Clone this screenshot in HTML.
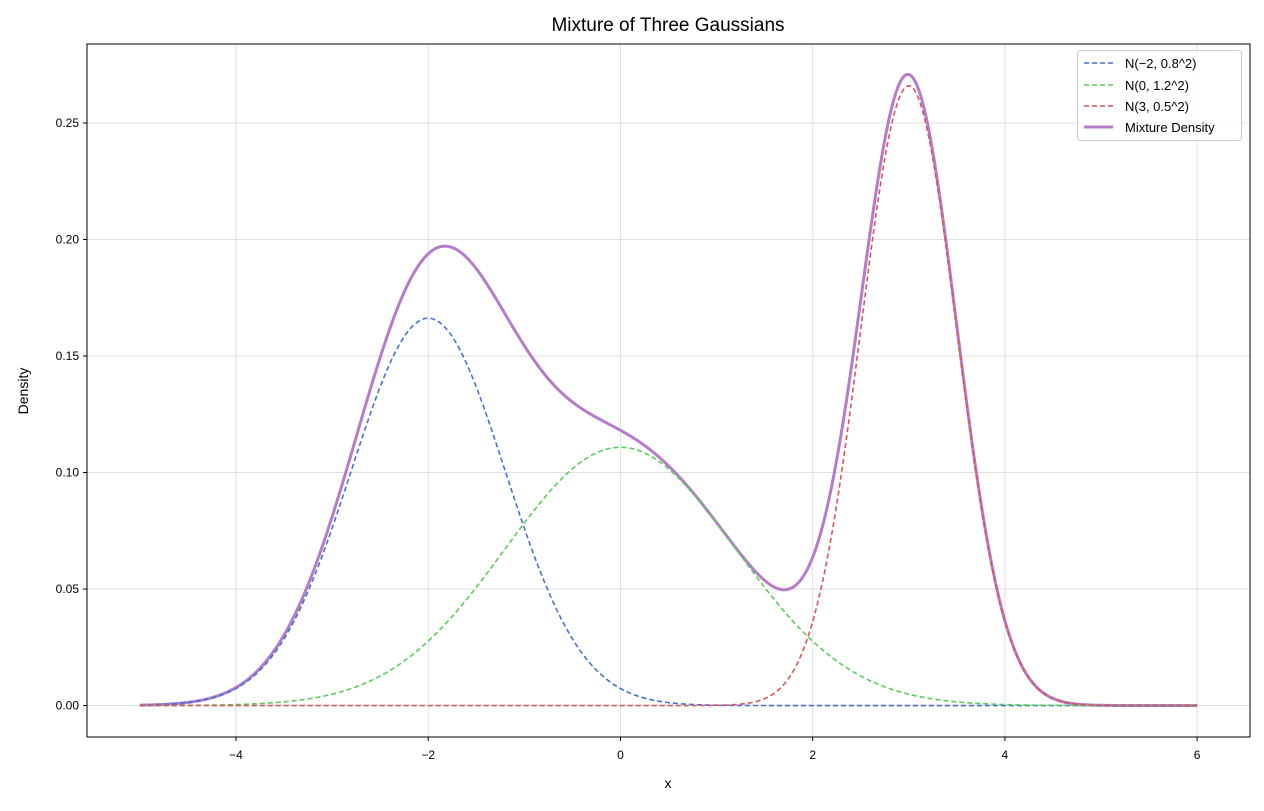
<!DOCTYPE html>
<html><head><meta charset="utf-8"><style>
body{margin:0;background:#fff;}
svg text{font-family:"Liberation Sans","DejaVu Sans",sans-serif;fill:#000;}
</style></head><body>
<svg id="chart" width="1264" height="806" xmlns="http://www.w3.org/2000/svg">
<rect width="1264" height="806" fill="#fff"/>
<g id="grid"></g>
<g id="series"></g>
<rect x="87" y="44" width="1163" height="693" fill="none" stroke="#000" stroke-width="1"/>
<g id="ticks"></g>
<text x="668" y="31" font-size="19" text-anchor="middle">Mixture of Three Gaussians</text>
<text x="668" y="788" font-size="14" text-anchor="middle">x</text>
<text x="28" y="391" font-size="14" text-anchor="middle" transform="rotate(-90 28 391)">Density</text>
<g>
<rect x="1077.5" y="50.5" width="164" height="90" rx="3" fill="#fff" fill-opacity="0.8" stroke="#ccc"/>
<g><line x1="1084" y1="63" x2="1113" y2="63" stroke="#4472d4" stroke-width="1.6" stroke-dasharray="5,3"/><text x="1125" y="68" font-size="13">N(−2, 0.8^2)</text></g>
<g><line x1="1084" y1="85" x2="1113" y2="85" stroke="#5ccc5c" stroke-width="1.6" stroke-dasharray="5,3"/><text x="1125" y="90" font-size="13">N(0, 1.2^2)</text></g>
<g><line x1="1084" y1="106" x2="1113" y2="106" stroke="#d95757" stroke-width="1.6" stroke-dasharray="5,3"/><text x="1125" y="111" font-size="13">N(3, 0.5^2)</text></g>
<g><line x1="1084" y1="127" x2="1113" y2="127" stroke="#b57cc9" stroke-width="3"/><text x="1125" y="132" font-size="13">Mixture Density</text></g>
</g>
</svg>
<script>
const means=[-2,0,3];
const sds=[0.8,1.2,0.5];
const weights=[1/3,1/3,1/3];
const colors=["#4472d4","#5ccc5c","#d95757"];
const xTicks=[-4,-2,0,2,4,6];
const yTicks=[0,0.05,0.10,0.15,0.20,0.25];
const yTickLabels=["0.00","0.05","0.10","0.15","0.20","0.25"];
const xDomain=[-5,6];
const X0=87,X1=1250,Y0=44,Y1=737;
const xmin=-5.55,xmax=6.55,ymin=-0.0135,ymax=0.2839;
const sx=v=>X0+(v-xmin)/(xmax-xmin)*(X1-X0);
const sy=v=>Y1-(v-ymin)/(ymax-ymin)*(Y1-Y0);
const NS="http://www.w3.org/2000/svg";
function mk(t,a,p){const e=document.createElementNS(NS,t);for(const k in a)e.setAttribute(k,a[k]);p.appendChild(e);return e;}
const grid=document.getElementById('grid'),ticks=document.getElementById('ticks'),ser=document.getElementById('series');
xTicks.forEach(t=>{const x=sx(t);
const g=mk('line',{x1:x,x2:x,y1:Y0,y2:Y1,stroke:'#e0e0e0','stroke-width':1},grid);


mk('line',{x1:x,x2:x,y1:Y1,y2:Y1+4,stroke:'#000'},ticks);
const tx=mk('text',{x:x,y:Y1+22,'font-size':12,'text-anchor':'middle'},ticks);
tx.textContent=(t<0?'−':'')+Math.abs(t);

});
yTicks.forEach((t,i)=>{const y=sy(t);
const g=mk('line',{x1:X0,x2:X1,y1:y,y2:y,stroke:'#e0e0e0','stroke-width':1},grid);


mk('line',{x1:X0-4,x2:X0,y1:y,y2:y,stroke:'#000'},ticks);
const tx=mk('text',{x:X0-8,y:y+4,'font-size':12,'text-anchor':'end'},ticks);
tx.textContent=yTickLabels[i];

});
const N=600,xs=[];for(let i=0;i<=N;i++)xs.push(xDomain[0]+(xDomain[1]-xDomain[0])*i/N);
const pdf=(x,m,s)=>Math.exp(-0.5*((x-m)/s)**2)/(s*Math.sqrt(2*Math.PI));
const comps=means.map((m,k)=>xs.map(x=>weights[k]*pdf(x,m,sds[k])));
const mix=xs.map((x,i)=>comps.reduce((a,c)=>a+c[i],0));
const path=arr=>arr.map((v,i)=>(i?'L':'M')+sx(xs[i]).toFixed(2)+','+sy(v).toFixed(2)).join('');
const mp=mk('path',{d:path(mix),fill:'none',stroke:'#b57cc9','stroke-width':3},ser);


comps.forEach((c,k)=>{const p=mk('path',{d:path(c),fill:'none',stroke:colors[k],'stroke-width':1.6,'stroke-dasharray':'5,3'},ser);

});
</script>
</body></html>
